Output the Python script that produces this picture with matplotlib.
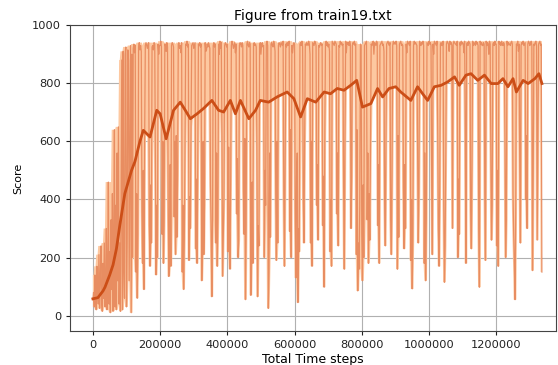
import numpy as np
import pandas as pd
import matplotlib
matplotlib.use("Agg")
import matplotlib.pyplot as plt

# episode scores, one every 2000 time steps (20 per row = 40k steps)
raw_scores = [
    55, 80, 30, 140, 60, 20, 170, 90, 40, 210, 25, 120, 240, 50, 15, 180, 60, 250, 30, 110,
    300, 20, 150, 460, 40, 220, 10, 330, 90, 420, 15, 260, 640, 30, 380, 20, 560, 120, 650, 40,
    250, 15, 480, 880, 20, 910, 160, 60, 900, 925, 30, 250, 915, 880, 120, 560, 930, 10, 900, 200,
    920, 935, 905, 930, 150, 420, 60, 280, 925, 940, 915, 930, 910, 360, 180, 500, 90, 610, 930, 940,
    930, 920, 935, 940, 310, 170, 450, 250, 925, 930, 915, 940, 935, 520, 140, 380, 200, 935, 900, 930,
    930, 945, 925, 280, 600, 180, 320, 935, 930, 910, 940, 925, 410, 135, 250, 520, 170, 930, 940, 935,
    925, 340, 600, 210, 620, 270, 480, 935, 940, 920, 930, 905, 940, 150, 380, 90, 260, 560, 935, 930,
    945, 925, 935, 190, 410, 300, 650, 930, 935, 940, 920, 930, 940, 230, 470, 180, 520, 935, 930, 940,
    925, 935, 120, 290, 600, 210, 380, 940, 910, 915, 935, 925, 940, 930, 920, 450, 280, 65, 330, 930,
    940, 925, 935, 250, 560, 170, 330, 935, 900, 945, 920, 940, 620, 135, 280, 410, 930, 940, 935, 925,
    935, 220, 580, 300, 160, 480, 930, 945, 935, 920, 930, 940, 905, 935, 350, 540, 200, 260, 930, 940,
    935, 925, 940, 930, 430, 280, 610, 55, 300, 935, 945, 930, 925, 940, 935, 70, 300, 460, 180, 935,
    940, 930, 935, 925, 580, 65, 310, 240, 930, 940, 900, 935, 940, 925, 930, 200, 500, 380, 935, 945,
    930, 25, 150, 560, 270, 935, 940, 930, 925, 945, 935, 910, 420, 190, 600, 250, 930, 940, 935, 925,
    940, 935, 930, 945, 410, 170, 520, 935, 925, 940, 930, 935, 945, 290, 640, 200, 930, 905, 930, 940,
    935, 370, 130, 480, 560, 45, 300, 220, 935, 940, 930, 945, 925, 410, 250, 600, 935, 930, 940, 935,
    930, 945, 935, 900, 250, 600, 170, 940, 935, 930, 945, 940, 930, 380, 520, 260, 930, 925, 935, 940,
    930, 935, 310, 480, 98, 620, 935, 945, 930, 940, 925, 935, 910, 220, 400, 170, 945, 940, 935, 930,
    945, 940, 935, 350, 560, 240, 930, 925, 945, 935, 940, 930, 935, 440, 160, 600, 945, 905, 940, 935,
    940, 930, 945, 935, 300, 480, 930, 940, 935, 945, 930, 935, 210, 640, 85, 250, 160, 380, 935, 930,
    280, 120, 450, 200, 930, 935, 940, 945, 330, 560, 180, 420, 260, 600, 935, 930, 940, 945, 900, 940,
    935, 930, 945, 940, 310, 520, 180, 930, 935, 940, 945, 930, 935, 910, 400, 240, 590, 935, 940, 945,
    935, 930, 940, 330, 210, 480, 930, 945, 935, 940, 935, 945, 930, 160, 620, 270, 935, 940, 945, 930,
    935, 930, 440, 230, 520, 300, 935, 905, 945, 940, 935, 930, 945, 190, 400, 92, 260, 930, 945, 935,
    940, 935, 930, 600, 250, 430, 945, 935, 930, 940, 935, 945, 930, 180, 560, 120, 330, 940, 935, 930,
    945, 935, 940, 930, 480, 210, 935, 900, 945, 940, 935, 930, 945, 620, 300, 170, 450, 935, 940, 930,
    930, 945, 380, 115, 240, 560, 935, 945, 940, 935, 910, 945, 935, 940, 930, 300, 935, 945, 940, 935,
    935, 930, 945, 200, 470, 280, 940, 930, 945, 935, 940, 935, 905, 945, 620, 180, 935, 940, 930, 945,
    940, 935, 360, 230, 520, 945, 930, 940, 935, 930, 945, 935, 940, 930, 300, 98, 945, 935, 940, 930,
    930, 940, 935, 420, 190, 945, 930, 940, 935, 900, 945, 935, 560, 260, 380, 935, 940, 930, 945, 935,
    935, 240, 500, 170, 945, 935, 940, 930, 945, 935, 930, 940, 935, 610, 200, 330, 945, 930, 940, 935,
    935, 930, 940, 945, 935, 420, 280, 180, 55, 350, 935, 930, 945, 910, 935, 520, 250, 930, 940, 935,
    945, 930, 935, 940, 400, 620, 300, 935, 945, 940, 930, 935, 945, 930, 155, 480, 935, 930, 940, 945,
    930, 260, 580, 935, 940, 945, 930, 935, 150,
]

# running average of the score
avg_steps = [
    0, 15000, 30000, 36000, 50000, 60000, 70000, 80000, 95000, 115000,
    125000, 140000, 150000, 170000, 190000, 200000, 218000, 240000, 260000, 275000,
    290000, 310000, 329000, 354000, 374000, 389000, 409000, 424000, 439000, 464000,
    484000, 498000, 523000, 548000, 578000, 598000, 618000, 638000, 663000, 688000,
    707000, 727000, 747000, 767000, 785000, 802000, 827000, 847000, 862000, 881000,
    901000, 916000, 946000, 966000, 981000, 996000, 1016000, 1036000, 1056000, 1076000,
    1090000, 1110000, 1125000, 1145000, 1165000, 1185000, 1205000, 1220000, 1235000, 1250000,
    1260000, 1280000, 1295000, 1315000, 1327000, 1336000,
]
avg_scores = [
    58, 62, 85, 98, 140, 175, 230, 310, 420, 500,
    530, 600, 638, 615, 707, 695, 609, 707, 735, 707,
    678, 695, 713, 741, 707, 701, 741, 695, 741, 678,
    707, 741, 735, 753, 770, 747, 684, 747, 735, 770,
    764, 782, 776, 793, 810, 718, 730, 782, 753, 782,
    788, 770, 741, 788, 764, 741, 788, 793, 805, 822,
    793, 828, 833, 810, 828, 799, 799, 816, 788, 816,
    770, 810, 799, 816, 833, 799,
]

steps = np.arange(len(raw_scores)) * 2000
scores = pd.Series(raw_scores, index=steps, dtype=float)
smooth = np.interp(steps, avg_steps, avg_scores)

# band: from the local best score down to the local worst episodes under the average
upper = np.maximum(scores.rolling(9, center=True, min_periods=1).max().values, smooth)
lower = np.minimum(scores.rolling(5, center=True, min_periods=1).min().values, smooth)

fig = plt.figure(figsize=(5.58, 3.65), dpi=100)
ax = fig.add_axes([0.1255, 0.093, 0.871, 0.838])

ax.fill_between(steps, lower, upper, facecolor="#fdc8a0", edgecolor="none", zorder=2)
ax.plot(steps, scores.values, color="#e27a4c", alpha=0.75, linewidth=0.9, zorder=3)
ax.plot(avg_steps, avg_scores, color="#cc4e17", linewidth=2.0, zorder=4)

ax.set_xlim(-68000, 1378000)
ax.set_ylim(-53, 1000)
ax.set_xticks([0, 200000, 400000, 600000, 800000, 1000000, 1200000])
ax.set_xticklabels(["0", "200000", "400000", "600000", "800000", "1000000", "1200000"])
ax.set_yticks([0, 200, 400, 600, 800, 1000])
ax.tick_params(labelsize=8.2, colors="#222222", length=3)
ax.grid(True, color="#b0b0b0", linewidth=0.8, zorder=0)
ax.set_axisbelow(True)
for s in ax.spines.values():
    s.set_color("#444444")

ax.set_title("Figure from train19.txt", fontsize=10, pad=4)
ax.set_xlabel("Total Time steps", fontsize=9, labelpad=2)
ax.set_ylabel("Score", fontsize=8, labelpad=6)

plt.savefig("out.png", dpi=100)
plt.close("all")
